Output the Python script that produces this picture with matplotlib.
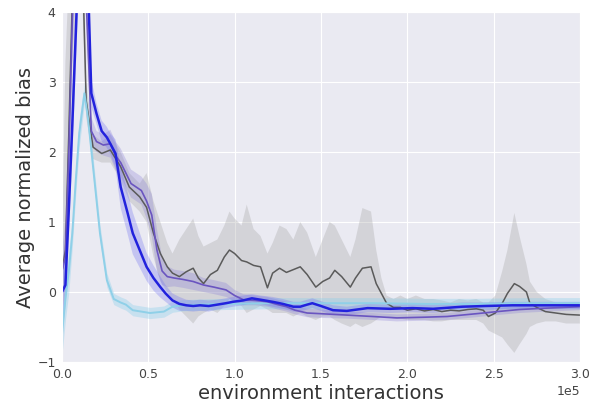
import numpy as np
import matplotlib
matplotlib.use("Agg")
import matplotlib.pyplot as plt
import seaborn as sns

# x positions are in units of 1e5 environment interactions
SCALE = 1e5

# blue run (thick line)
blue_x = [0.00, 0.02, 0.04, 0.06, 0.08, 0.10, 0.13, 0.15, 0.17, 0.20,
          0.23, 0.26, 0.28, 0.31, 0.34, 0.38, 0.41, 0.45, 0.49, 0.53,
          0.57, 0.60, 0.64, 0.68, 0.72, 0.76, 0.80, 0.85, 0.90, 0.95,
          0.99, 1.05, 1.10, 1.15, 1.22, 1.28, 1.34, 1.38, 1.42, 1.45,
          1.50, 1.57, 1.65, 1.77, 1.90, 2.03, 2.15, 2.32, 2.45, 2.61,
          2.75, 2.90, 3.00]
blue_y = [0.0, 0.1, 1.2, 2.4, 3.7, 5.0, 5.6, 4.5, 2.84, 2.55,
          2.3, 2.21, 2.12, 1.98, 1.5, 1.13, 0.84, 0.6, 0.36, 0.2,
          0.07, -0.02, -0.12, -0.17, -0.19, -0.2, -0.19, -0.2, -0.18, -0.16,
          -0.14, -0.12, -0.09, -0.11, -0.14, -0.17, -0.21, -0.21, -0.18, -0.16,
          -0.2, -0.26, -0.27, -0.23, -0.24, -0.23, -0.24, -0.21, -0.2, -0.19,
          -0.19, -0.19, -0.19]
blue_d = [0.65, 0.3, 0.4, 0.5, 0.5, 0.5, 0.5, 0.4, 0.2, 0.15,
          0.15, 0.15, 0.15, 0.2, 0.3, 0.3, 0.3, 0.25, 0.2, 0.18,
          0.15, 0.12, 0.1, 0.1, 0.08, 0.08, 0.08, 0.08, 0.07, 0.07,
          0.07, 0.07, 0.06, 0.06, 0.07, 0.07, 0.07, 0.07, 0.07, 0.07,
          0.07, 0.07, 0.06, 0.06, 0.06, 0.06, 0.06, 0.06, 0.05, 0.05,
          0.05, 0.05, 0.05]

# purple run
purple_x = [0.00, 0.02, 0.04, 0.06, 0.09, 0.12, 0.14, 0.17, 0.20, 0.24,
            0.28, 0.31, 0.34, 0.37, 0.40, 0.43, 0.46, 0.49, 0.52, 0.55,
            0.58, 0.61, 0.65, 0.70, 0.76, 0.82, 0.88, 0.95, 1.00, 1.05,
            1.12, 1.19, 1.25, 1.30, 1.35, 1.42, 1.50, 1.65, 1.80, 1.94,
            2.10, 2.23, 2.40, 2.52, 2.65, 2.81, 3.00]
purple_y = [0.3, 0.5, 2.0, 3.9, 5.5, 5.0, 4.2, 2.3, 2.15, 2.1,
            2.12, 1.95, 1.85, 1.7, 1.55, 1.5, 1.45, 1.3, 1.1, 0.6,
            0.3, 0.22, 0.2, 0.18, 0.15, 0.1, 0.07, 0.03, -0.05, -0.11,
            -0.12, -0.14, -0.18, -0.21, -0.26, -0.3, -0.31, -0.33, -0.35, -0.37,
            -0.36, -0.35, -0.31, -0.28, -0.25, -0.23, -0.21]
purple_d = [0.3, 0.5, 0.5, 0.5, 0.5, 0.5, 0.3, 0.2, 0.15, 0.15,
            0.2, 0.2, 0.2, 0.2, 0.2, 0.2, 0.2, 0.25, 0.3, 0.3,
            0.2, 0.15, 0.12, 0.12, 0.12, 0.1, 0.1, 0.1, 0.08, 0.08,
            0.07, 0.07, 0.07, 0.07, 0.06, 0.06, 0.06, 0.05, 0.05, 0.05,
            0.05, 0.05, 0.05, 0.05, 0.05, 0.05, 0.05]

# gray run (noisy, wide band)
gray_x = [0.00, 0.02, 0.04, 0.06, 0.09, 0.12, 0.14, 0.18, 0.23, 0.28,
          0.34, 0.39, 0.45, 0.49, 0.53, 0.57, 0.61, 0.64, 0.68, 0.72,
          0.76, 0.79, 0.82, 0.86, 0.90, 0.94, 0.97, 1.00, 1.04, 1.07,
          1.11, 1.15, 1.19, 1.22, 1.26, 1.30, 1.34, 1.38, 1.42, 1.47,
          1.51, 1.55, 1.58, 1.62, 1.67, 1.70, 1.74, 1.79, 1.82, 1.85,
          1.88, 1.92, 1.96, 2.00, 2.05, 2.10, 2.15, 2.20, 2.25, 2.30,
          2.35, 2.40, 2.44, 2.47, 2.51, 2.55, 2.58, 2.62, 2.65, 2.69,
          2.71, 2.75, 2.80, 2.86, 2.92, 3.00]
gray_y = [0.3, 0.6, 2.3, 4.2, 5.5, 4.6, 2.74, 2.07, 1.98, 2.03,
          1.79, 1.5, 1.36, 1.21, 0.84, 0.55, 0.36, 0.27, 0.22, 0.29,
          0.34, 0.20, 0.12, 0.25, 0.31, 0.50, 0.60, 0.55, 0.45, 0.43,
          0.38, 0.36, 0.06, 0.27, 0.34, 0.28, 0.32, 0.36, 0.25, 0.07,
          0.15, 0.20, 0.31, 0.22, 0.07, 0.20, 0.34, 0.36, 0.12, -0.02,
          -0.16, -0.22, -0.22, -0.26, -0.24, -0.27, -0.25, -0.28, -0.26, -0.27,
          -0.25, -0.24, -0.26, -0.35, -0.30, -0.16, -0.02, 0.12, 0.08, 0.0,
          -0.16, -0.22, -0.28, -0.30, -0.32, -0.33]
gray_hi = [0.6, 3.3, 4.5, 5.5, 6.0, 5.2, 3.0, 2.25, 2.15, 2.25,
           2.0, 1.7, 1.55, 1.7, 1.3, 1.0, 0.7, 0.55, 0.75, 0.9,
           1.05, 0.8, 0.65, 0.7, 0.75, 0.95, 1.15, 1.05, 0.95, 1.25,
           0.9, 0.8, 0.55, 0.7, 0.95, 0.9, 0.75, 1.0, 0.85, 0.5,
           0.75, 1.0, 0.95, 0.75, 0.5, 0.75, 1.2, 1.15, 0.6, 0.2,
           -0.05, -0.1, -0.05, -0.1, -0.05, -0.1, -0.1, -0.12, -0.15, -0.1,
           -0.12, -0.1, -0.15, -0.15, -0.05, 0.3, 0.6, 1.13, 0.8, 0.4,
           0.15, 0.0, -0.1, -0.15, -0.18, -0.2]
gray_lo = [-0.3, 0.0, 1.2, 3.2, 4.5, 4.0, 2.5, 1.9, 1.85, 1.85,
           1.6, 1.3, 1.15, 1.0, 0.5, 0.15, 0.0, -0.1, -0.25, -0.35,
           -0.45, -0.35, -0.3, -0.25, -0.3, -0.2, -0.1, -0.15, -0.2, -0.3,
           -0.25, -0.2, -0.25, -0.3, -0.3, -0.3, -0.35, -0.3, -0.35, -0.4,
           -0.35, -0.35, -0.4, -0.45, -0.5, -0.45, -0.5, -0.45, -0.4, -0.35,
           -0.35, -0.38, -0.38, -0.4, -0.4, -0.4, -0.42, -0.42, -0.4, -0.4,
           -0.4, -0.4, -0.45, -0.55, -0.6, -0.65, -0.75, -0.87, -0.75, -0.6,
           -0.5, -0.45, -0.42, -0.42, -0.45, -0.45]

# light blue run (fast one)
light_x = [0.00, 0.02, 0.04, 0.06, 0.08, 0.10, 0.13, 0.15, 0.18, 0.22,
           0.26, 0.30, 0.34, 0.37, 0.41, 0.46, 0.51, 0.55, 0.59, 0.64,
           0.70, 0.80, 0.95, 1.20, 1.50, 1.80, 2.10, 2.40, 2.70, 3.00]
light_y = [-0.6, -0.1, 0.3, 0.84, 1.6, 2.27, 2.84, 2.5, 1.79, 0.84,
           0.17, -0.1, -0.15, -0.18, -0.26, -0.28, -0.3, -0.29, -0.28, -0.21,
           -0.19, -0.18, -0.17, -0.16, -0.16, -0.16, -0.17, -0.17, -0.16, -0.16]
light_d = [0.3, 0.3, 0.3, 0.2, 0.2, 0.2, 0.15, 0.15, 0.15, 0.12,
           0.1, 0.08, 0.08, 0.08, 0.08, 0.08, 0.08, 0.08, 0.08, 0.08,
           0.08, 0.08, 0.08, 0.08, 0.08, 0.08, 0.08, 0.08, 0.08, 0.08]

sns.set_style("darkgrid")
plt.rcParams['font.family'] = ['DejaVu Sans']

fig = plt.figure(figsize=(5.93, 4.04), dpi=100)
ax = fig.add_axes([0.1045, 0.104, 0.8735, 0.866])

# bands first, lines on top
gx = np.array(gray_x) * SCALE
ax.fill_between(gx, gray_lo, gray_hi, color="#a9a9a9", alpha=0.35, lw=0)

lx = np.array(light_x) * SCALE
ly = np.array(light_y)
ax.fill_between(lx, ly - np.array(light_d), ly + np.array(light_d),
                color="#87ceeb", alpha=0.35, lw=0)

px = np.array(purple_x) * SCALE
py = np.array(purple_y)
ax.fill_between(px, py - np.array(purple_d), py + np.array(purple_d),
                color="#8a7fd6", alpha=0.3, lw=0)

bx = np.array(blue_x) * SCALE
by = np.array(blue_y)
ax.fill_between(bx, by - np.array(blue_d), by + np.array(blue_d),
                color="#6f6ff0", alpha=0.3, lw=0)

ax.plot(gx, gray_y, color="#5a5a5a", lw=1.1)
ax.plot(lx, ly, color="#8fd0e8", lw=1.4)
ax.plot(px, py, color="#6a55c0", lw=1.2)
ax.plot(bx, by, color="#2222dd", lw=1.8)

ax.set_xlim(0, 3.0 * SCALE)
ax.set_ylim(-1, 4)
ax.set_yticks([-1, 0, 1, 2, 3, 4])
ax.ticklabel_format(axis="x", style="sci", scilimits=(0, 0))
ax.tick_params(labelsize=9, colors="#444444", pad=1)
ax.xaxis.get_offset_text().set_fontsize(9)
ax.xaxis.get_offset_text().set_color("#444444")

ax.set_xlabel("environment interactions", fontsize=14, color="#333333", labelpad=2)
ax.set_ylabel("Average normalized bias", fontsize=14, color="#333333", labelpad=2)

fig.savefig("out.png", dpi=100)
